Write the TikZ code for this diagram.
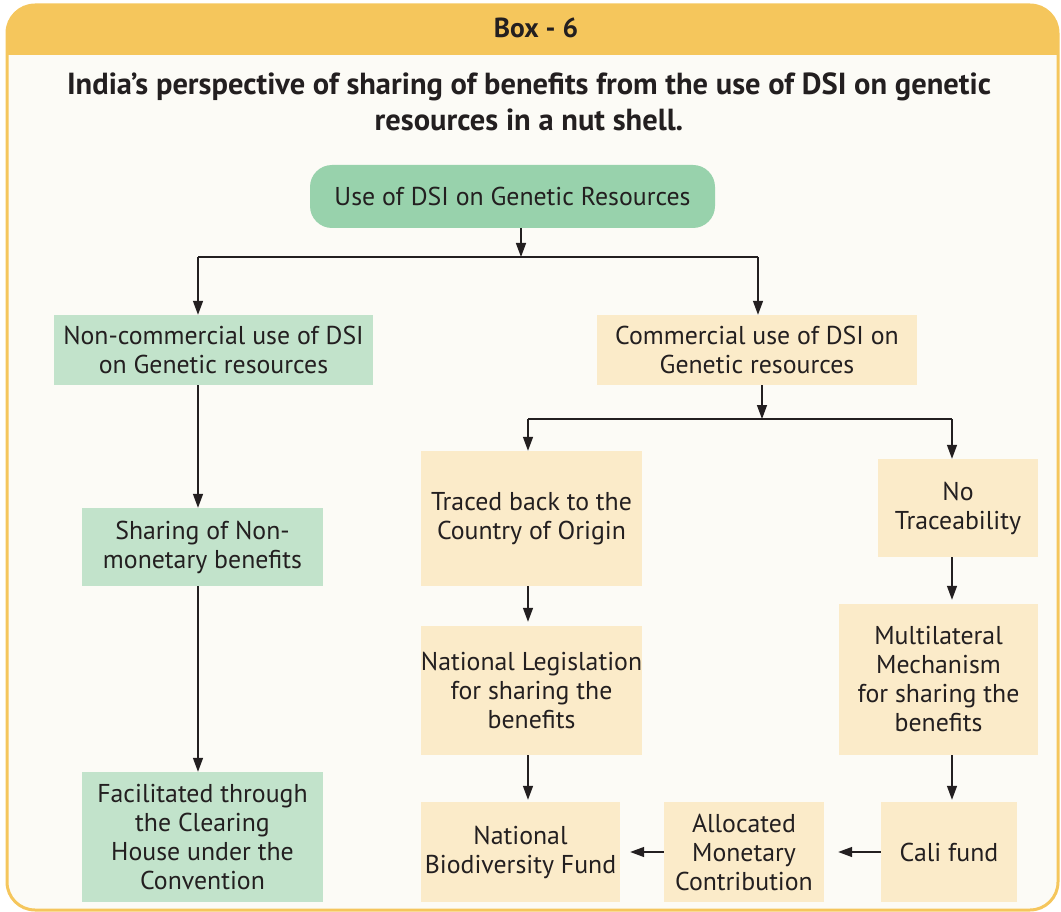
\documentclass[tikz,border=0pt]{standalone}
\usepackage{fontspec}
\setmainfont{PT Sans}
\usetikzlibrary{arrows.meta}
\definecolor{hdr}{HTML}{F5C65C}
\definecolor{paper}{HTML}{FCFBF6}
\definecolor{mint}{HTML}{98D2AC}
\definecolor{palegreen}{HTML}{C2E3CB}
\definecolor{beige}{HTML}{FBEBC9}
\definecolor{ink}{HTML}{231F20}
\tikzset{
  x=1pt, y=-1pt,
  box/.style={rectangle, inner sep=0pt, align=center, text=ink,
    font=\fontsize{25.8}{29}\selectfont},
  gbox/.style={box, fill=palegreen},
  ybox/.style={box, fill=beige},
  link/.style={draw=ink, line width=1.4pt},
  arr/.style={link, -{Triangle[length=14pt,width=10pt]}},
}
\begin{document}
\begin{tikzpicture}
\useasboundingbox (0,0) rectangle (1061,912);
% frame with header band
\begin{scope}
  \clip[rounded corners=28pt] (7,5) rectangle (1058,910);
  \fill[paper] (0,0) rectangle (1061,912);
  \fill[hdr] (0,0) rectangle (1061,55);
\end{scope}
\draw[hdr, line width=3pt, rounded corners=28pt] (7,5) rectangle (1058,910);
\node[text=ink, font=\fontsize{27.5}{29}\selectfont\bfseries] (boxno) at (536,28) {Box - 6};
\node[text=ink, align=center, font=\fontsize{30.5}{36}\selectfont\bfseries] (title) at (529,102)
  {India’s perspective of sharing of benefits from the use of DSI on genetic\\resources in a nut shell.};

% nodes
\node[box, fill=mint, rounded corners=22pt, minimum width=405pt, minimum height=63pt] (use) at (512.5,196.5) {Use of DSI on Genetic Resources};
\node[gbox, minimum width=319pt, minimum height=70pt] (noncom) at (213.5,350) {Non-commercial use of DSI\\on Genetic resources};
\node[ybox, minimum width=320pt, minimum height=70pt] (com) at (757,350) {Commercial use of DSI on\\Genetic resources};
\node[gbox, minimum width=241pt, minimum height=78pt] (share) at (202.5,547) {Sharing of Non-\\monetary benefits};
\node[gbox, minimum width=241pt, minimum height=130pt] (facil) at (202.5,837) {Facilitated through\\the Clearing\\House under the\\Convention};
\node[ybox, minimum width=221pt, minimum height=135pt] (traced) at (531.5,518.5) {Traced back to the\\Country of Origin};
\node[ybox, minimum width=160pt, minimum height=98pt] (notrace) at (958,508) {No\\Traceability};
\node[ybox, minimum width=221pt, minimum height=129pt] (natleg) at (531.5,690.5) {National Legislation\\for sharing the\\benefits};
\node[ybox, minimum width=199pt, minimum height=151pt] (multi) at (938.5,679.5) {Multilateral\\Mechanism\\for sharing the\\benefits};
\node[ybox, minimum width=199pt, minimum height=100pt] (nbf) at (520.5,852) {National\\Biodiversity Fund};
\node[ybox, minimum width=160pt, minimum height=100pt] (alloc) at (744,852) {Allocated\\Monetary\\Contribution};
\node[ybox, minimum width=136pt, minimum height=100pt] (cali) at (949,852) {Cali fund};

% first split
\coordinate (s1) at (521,257);
\coordinate (s1l) at (198,257);
\coordinate (s1r) at (758,257);
\draw[arr] (use.south -| s1) -- (s1);
\draw[link] (s1l) -- (s1r);
\draw[arr] (s1l) -- (s1l |- noncom.north);
\draw[arr] (s1r) -- (s1r |- com.north);

% non-commercial branch
\draw[arr] (noncom.south -| s1l) -- (s1l |- share.north);
\draw[arr] (share.south -| s1l) -- (s1l |- facil.north);

% second split
\coordinate (s2) at (762,419);
\coordinate (s2l) at (528,419);
\coordinate (s2r) at (952,419);
\draw[arr] (com.south -| s2) -- (s2);
\draw[link] (s2l) -- (s2r);
\draw[arr] (s2l) -- (s2l |- traced.north);
\draw[arr] (s2r) -- (s2r |- notrace.north);

% commercial branches
\draw[arr, shorten >=4pt] (traced.south -| s2l) -- (s2l |- natleg.north);
\draw[arr, shorten >=2pt] (natleg.south -| s2l) -- (s2l |- nbf.north);
\draw[arr, shorten >=4pt] (notrace.south -| s2r) -- (s2r |- multi.north);
\draw[arr, shorten >=2pt] (multi.south -| s2r) -- (s2r |- cali.north);
\draw[arr, shorten >=14pt] (cali.west) -- (alloc.east);
\draw[arr, shorten >=10pt] (alloc.west) -- (nbf.east);
\end{tikzpicture}
\end{document}
